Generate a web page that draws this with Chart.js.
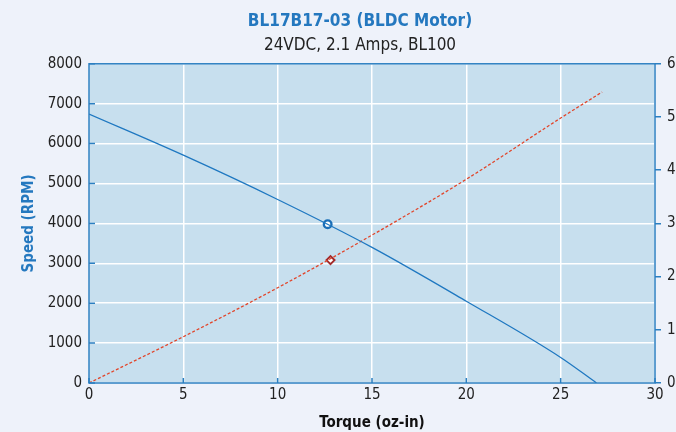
<!DOCTYPE html>
<html>
<head>
<meta charset="utf-8">
<script src="https://cdn.jsdelivr.net/npm/chart.js@4"></script>
<style>
  html, body { margin: 0; padding: 0; background: #eef2fa; overflow: hidden; }
  #wrap { width: 700px; height: 432px; }
</style>
</head>
<body>
<div id="wrap"><canvas id="motorChart"></canvas></div>
<script>
// speed curve (RPM vs oz-in)
const speedTorque = [0, 5, 10, 15, 20, 25, 26.9];
const speedRpm = [6740, 5710, 4600, 3400, 2050, 640, 0];
// current curve (Amps vs oz-in)
const currentTorque = [0, 5, 10, 15, 20, 25, 27.2];
const currentAmps = [0, 0.87, 1.79, 2.78, 3.83, 4.98, 5.47];
// operating point markers
const ratedTorqueSpeed = 12.65, ratedSpeed = 3980;
const ratedTorqueCurrent = 12.8, ratedCurrent = 2.31;
const xTicks = [0, 5, 10, 15, 20, 25, 30];

const FONT = "'DejaVu Sans Condensed', 'Liberation Sans Narrow', 'Liberation Sans', sans-serif";
const AXIS_BLUE = '#2b7fc1';

function pts(xs, ys) {
    return xs.map(function (x, i) { return { x: x, y: ys[i] }; });
}

// plot background, border and small inside ticks
const plotFrame = {
    id: 'plotFrame',
    beforeDraw: function (chart) {
        const a = chart.chartArea, ctx = chart.ctx;
        ctx.save();
        ctx.fillStyle = '#c7dfee';
        ctx.fillRect(a.left, a.top, a.right - a.left, a.bottom - a.top);
        ctx.restore();
    },
    afterDatasetsDraw: function (chart) {
        const a = chart.chartArea, ctx = chart.ctx;
        const y = chart.scales.y, x = chart.scales.x;
        ctx.save();
        ctx.strokeStyle = AXIS_BLUE;
        ctx.lineWidth = 1.5;
        ctx.strokeRect(a.left, a.top, a.right - a.left, a.bottom - a.top);
        ctx.beginPath();
        y.ticks.forEach(function (t) {
            const py = y.getPixelForValue(t.value);
            ctx.moveTo(a.left, py); ctx.lineTo(a.left + 6, py);
        });
        x.ticks.forEach(function (t) {
            const px = x.getPixelForValue(t.value);
            ctx.moveTo(px, a.bottom); ctx.lineTo(px, a.bottom - 5);
        });
        ctx.stroke();
        ctx.restore();
    }
};

new Chart(document.getElementById('motorChart'), {
    type: 'line',
    data: {
        datasets: [{
            label: 'Speed',
            data: pts(speedTorque, speedRpm),
            borderColor: '#1f78c1',
            borderWidth: 1.3,
            pointRadius: 0,
            cubicInterpolationMode: 'monotone',
            yAxisID: 'y'
        }, {
            label: 'Current',
            data: pts(currentTorque, currentAmps),
            borderColor: '#e2452a',
            borderWidth: 1.3,
            borderDash: [3, 2],
            pointRadius: 0,
            cubicInterpolationMode: 'monotone',
            yAxisID: 'y2'
        }, {
            label: 'Rated speed',
            data: [{ x: ratedTorqueSpeed, y: ratedSpeed }],
            showLine: false,
            pointStyle: 'circle',
            pointRadius: 3.8,
            pointBorderWidth: 2.4,
            pointBorderColor: '#1a6fb8',
            pointBackgroundColor: '#ffffff',
            yAxisID: 'y'
        }, {
            label: 'Rated current',
            data: [{ x: ratedTorqueCurrent, y: ratedCurrent }],
            showLine: false,
            pointStyle: 'rectRot',
            pointRadius: 4,
            pointBorderWidth: 2,
            pointBorderColor: '#a32a2a',
            pointBackgroundColor: '#ffffff',
            yAxisID: 'y2'
        }]
    },
    options: {
        responsive: true,
        maintainAspectRatio: false,
        animation: false,
        layout: { padding: { top: 0, left: 20, right: 0, bottom: 0 } },
        plugins: {
            legend: { display: false },
            tooltip: { enabled: false },
            title: {
                display: true,
                text: 'BL17B17-03 (BLDC Motor)',
                color: '#2478bf',
                font: { family: FONT, size: 17, weight: 'bold' },
                padding: { top: 11, bottom: 4 }
            },
            subtitle: {
                display: true,
                text: '24VDC, 2.1 Amps, BL100',
                color: '#222222',
                font: { family: FONT, size: 17 },
                padding: { top: 0, bottom: 8 }
            }
        },
        scales: {
            x: {
                type: 'linear',
                min: 0, max: 30,
                afterBuildTicks: function (s) { s.ticks = xTicks.map(function (v) { return { value: v }; }); },
                grid: { color: '#ffffff', lineWidth: 1.5, drawTicks: false },
                border: { display: false },
                ticks: { color: '#222222', padding: 3, maxRotation: 0, font: { family: FONT, size: 15 } },
                title: {
                    display: true, text: 'Torque (oz-in)', color: '#111111',
                    font: { family: FONT, size: 15, weight: 'bold' }, padding: { top: 1, bottom: 0 }
                },
                afterFit: function (s) { s.height = 49; }
            },
            y: {
                position: 'left',
                min: 0, max: 8000,
                ticks: {
                    stepSize: 1000, color: '#222222', padding: 7, font: { family: FONT, size: 15 },
                    callback: function (v) { return String(v); }
                },
                grid: { color: '#ffffff', lineWidth: 1.5, drawTicks: false },
                border: { display: false },
                title: {
                    display: true, text: 'Speed (RPM)', color: '#2478bf',
                    font: { family: FONT, size: 15, weight: 'bold' }, padding: { top: 0, bottom: 0 }
                },
                afterFit: function (s) { s.width = 69; }
            },
            y2: {
                position: 'right',
                min: 0, max: 6,
                ticks: { stepSize: 1, color: '#222222', padding: 6, font: { family: FONT, size: 15 } },
                grid: { drawOnChartArea: false, color: AXIS_BLUE, lineWidth: 1.5, tickLength: 6 },
                border: { display: false },
                afterFit: function (s) { s.width = 45; }
            }
        }
    },
    plugins: [plotFrame]
});
</script>
</body>
</html>
